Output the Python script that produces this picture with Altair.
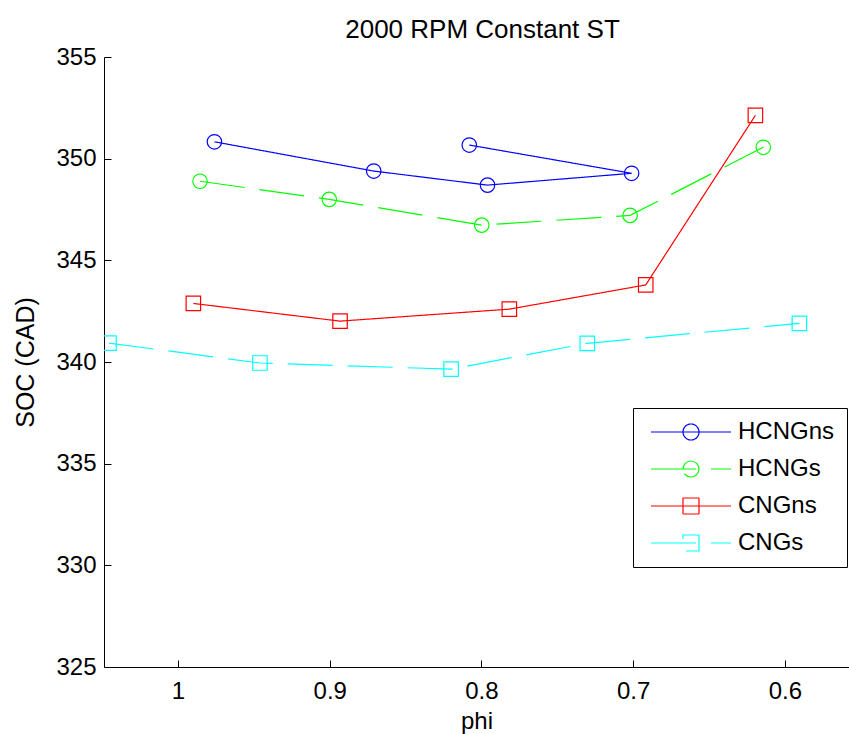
import altair as alt
import pandas as pd

series = ["HCNGns", "HCNGs", "CNGns", "CNGs"]

phi_hcngns = [0.976, 0.871, 0.796, 0.701, 0.808]
soc_hcngns = [350.83, 349.39, 348.70, 349.28, 350.67]

phi_hcngs = [0.9855, 0.9003, 0.7998, 0.702, 0.6142]
soc_hcngs = [348.89, 348.00, 346.73, 347.21, 350.56]

phi_cngns = [0.9899, 0.8932, 0.7816, 0.6917, 0.6194]
soc_cngns = [342.88, 342.01, 342.60, 343.79, 352.13]

phi_cngs = [1.0455, 0.946, 0.820, 0.7302, 0.5904]
soc_cngs = [340.93, 339.95, 339.65, 340.92, 341.90]

x_ticks = [1, 0.9, 0.8, 0.7, 0.6]
y_ticks = [325, 330, 335, 340, 345, 350, 355]

rows = []
for name, phis, socs in zip(series,
                            [phi_hcngns, phi_hcngs, phi_cngns, phi_cngs],
                            [soc_hcngns, soc_hcngs, soc_cngns, soc_cngs]):
    for i, (p, s) in enumerate(zip(phis, socs)):
        rows.append({"series": name, "Series": name, "phi": p, "soc": s, "idx": i})
df = pd.DataFrame(rows)

colors = ["#0000ff", "#00ff00", "#ff0000", "#00ffff"]
dashes = [[1, 0], [45, 15], [1, 0], [45, 15]]
plot_shapes = ["circle", "circle", "square", "square"]
circ_path = "M-4,0L4,0M-0.8,0A0.8,0.8,0,1,1,0.8,0A0.8,0.8,0,1,1,-0.8,0"
sq_path = "M-4,0L4,0M-0.8,-0.8L0.8,-0.8L0.8,0.8L-0.8,0.8Z"
legend_shapes = [circ_path, circ_path, sq_path, sq_path]

FONT = "Liberation Sans"
W, H = 745, 610

x_enc = alt.X(
    "phi:Q",
    scale=alt.Scale(domain=[0.5577, 1.0488], reverse=True, nice=False, zero=False),
    axis=alt.Axis(values=x_ticks, format="~g", title="phi", grid=True,
                  gridDash=[0, H - 7, 7, 2000], gridColor="black", gridOpacity=1,
                  ticks=False, tickSize=0, labelPadding=12, titlePadding=6),
)
y_enc = alt.Y(
    "soc:Q",
    scale=alt.Scale(domain=[325, 355], nice=False, zero=False),
    axis=alt.Axis(values=y_ticks, title="SOC (CAD)", grid=True,
                  gridDash=[0, W - 7, 7, 2000], gridColor="black", gridOpacity=1,
                  ticks=False, tickSize=0, labelPadding=8, titlePadding=17,
                  titleFontSize=25),
)

base = alt.Chart(df)

lines = base.mark_line(strokeWidth=1.2, clip=True).encode(
    x=x_enc, y=y_enc,
    color=alt.Color("series:N", scale=alt.Scale(domain=series, range=colors), legend=None),
    strokeDash=alt.StrokeDash("series:N", scale=alt.Scale(domain=series, range=dashes), legend=None),
    order=alt.Order("idx:Q"),
    detail="series:N",
)

points = base.mark_point(size=210, strokeWidth=1.2, filled=False, opacity=1, clip=True).encode(
    x=x_enc, y=y_enc,
    color=alt.Color("series:N", scale=alt.Scale(domain=series, range=colors), legend=None),
    shape=alt.Shape("series:N", scale=alt.Scale(domain=series, range=plot_shapes), legend=None),
)

leg = alt.Legend(orient="none", legendX=529, legendY=351, title=None,
                 symbolSize=400, symbolStrokeWidth=1.2, symbolOpacity=1,
                 symbolOffset=34, labelOffset=35,
                 labelFontSize=24, labelFont=FONT, labelColor="black",
                 strokeColor="black", padding=12, rowPadding=13,
                 fillColor="white")

legend_layer = base.mark_point(opacity=0, filled=False).encode(
    x=x_enc, y=y_enc,
    color=alt.Color("Series:N", scale=alt.Scale(domain=series, range=colors), legend=leg),
    shape=alt.Shape("Series:N", scale=alt.Scale(domain=series, range=legend_shapes), legend=leg),
    strokeDash=alt.StrokeDash("Series:N", scale=alt.Scale(domain=series, range=dashes), legend=leg),
)

chart = alt.layer(lines, points, legend_layer).resolve_scale(
    color="independent", shape="independent", strokeDash="independent"
).properties(
    width=W, height=H,
    title=alt.TitleParams("2000 RPM Constant ST", fontSize=26, font=FONT,
                          fontWeight="normal", color="black", dx=6, offset=2),
    autosize=alt.AutoSizeParams(type="none"),
    padding={"left": 104, "top": 57, "right": 0, "bottom": 67},
).configure_view(stroke=None).configure_axis(
    labelFont=FONT, labelFontSize=24, labelColor="black",
    titleFont=FONT, titleFontSize=24, titleFontWeight="normal", titleColor="black",
    domainColor="black", domainWidth=1,
)

chart.save("out.html", embed_options={"renderer": "svg", "actions": False})
